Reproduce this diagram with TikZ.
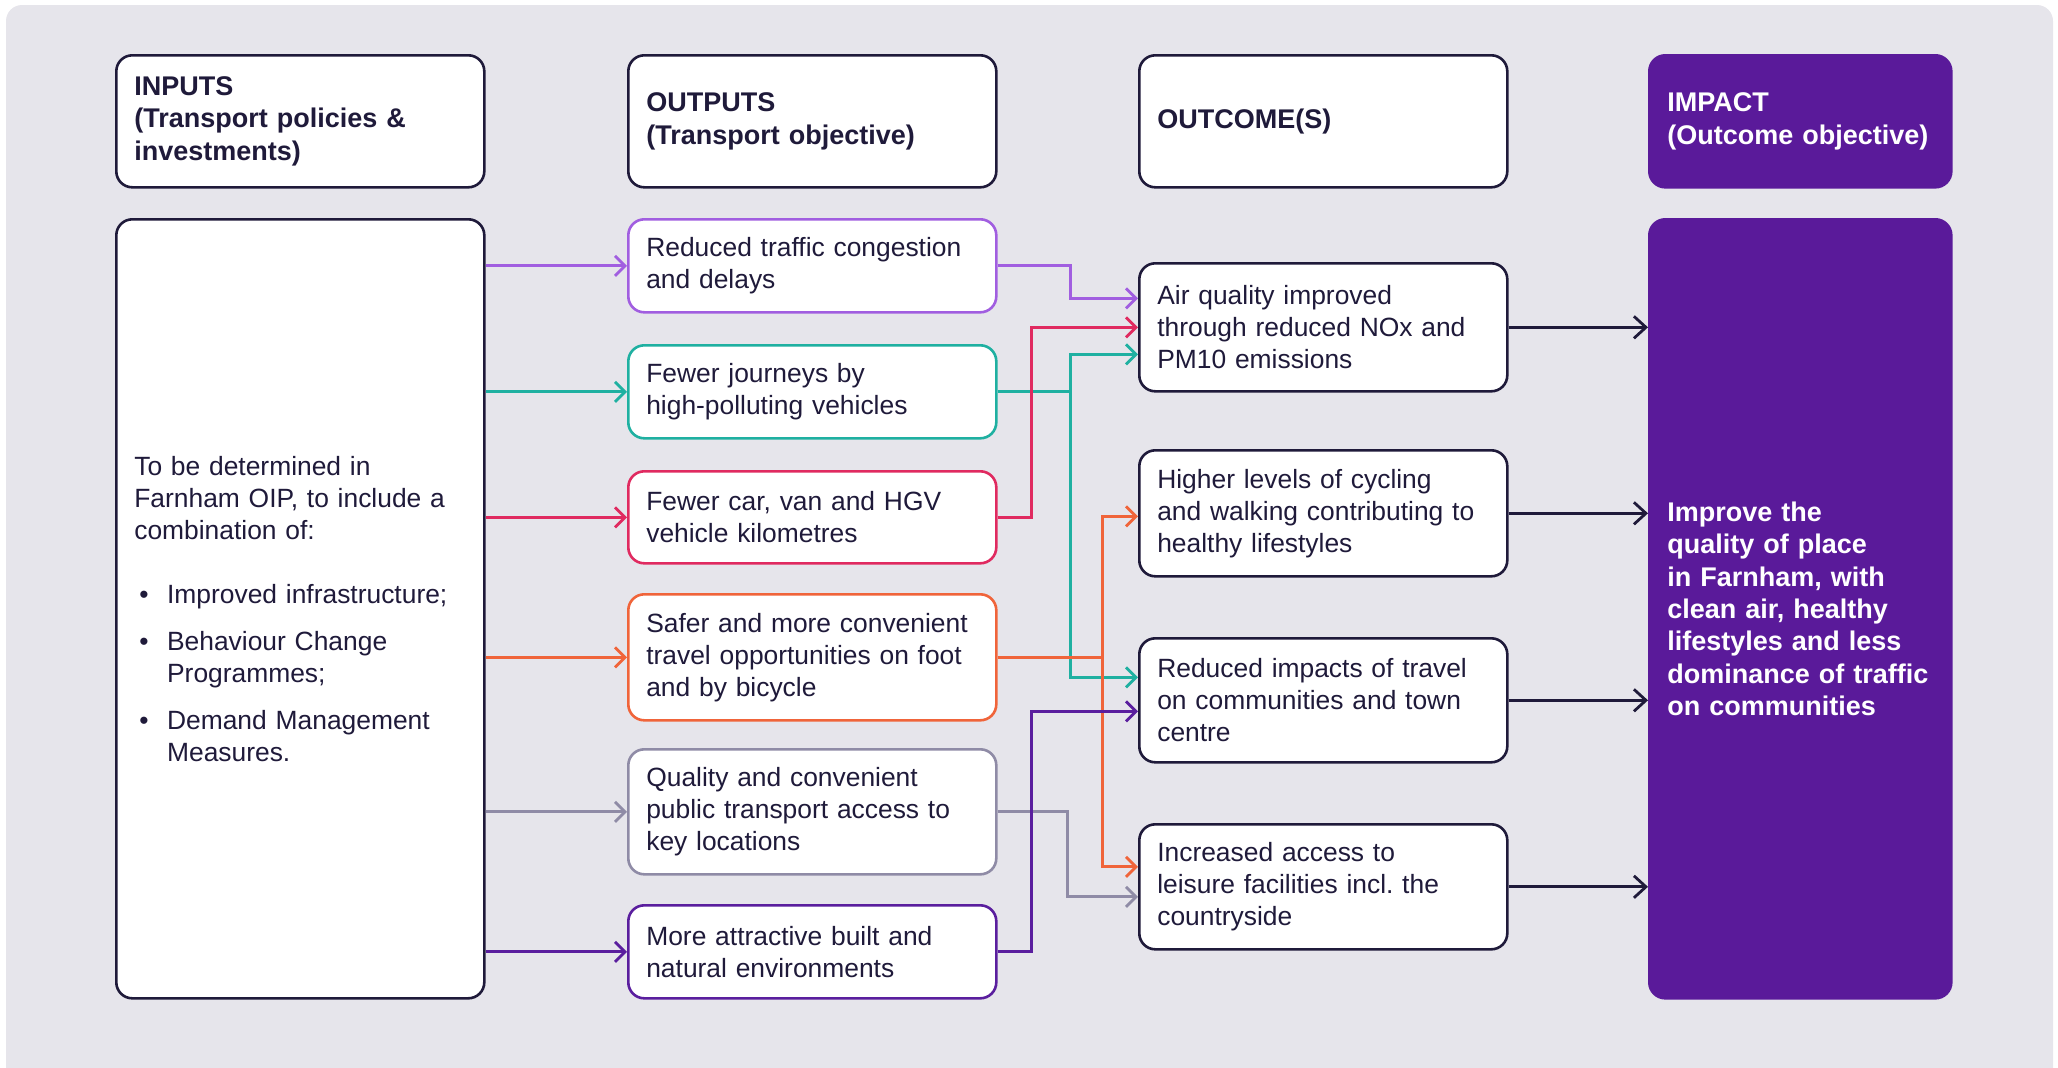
\documentclass[tikz,border=0pt]{standalone}
\usepackage{fontspec}
\setmainfont{Liberation Sans}
\usetikzlibrary{arrows.meta,positioning,calc}
\definecolor{ink}{HTML}{1F1A3A}
\definecolor{bg}{HTML}{E6E5EB}
\definecolor{imp}{HTML}{5A1A9A}
\definecolor{lilac}{HTML}{A15EE0}
\definecolor{jade}{HTML}{1FB0A1}
\definecolor{rose}{HTML}{E02A60}
\definecolor{flame}{HTML}{F0643A}
\definecolor{slate}{HTML}{8F8BA6}
\definecolor{plum}{HTML}{5A1E9E}

\begin{document}
\begin{tikzpicture}
[x=0.5pt,y=-0.5pt,
font=\fontsize{13.2}{16}\selectfont,
cell/.style={draw=ink,line width=1.3pt,rounded corners=8pt,fill=white,text=ink,
  anchor=north west,align=left,text width=166pt,inner xsep=9pt,inner ysep=0pt},
hdr/.style={cell,minimum height=66pt,font=\fontsize{13.5}{16.2}\selectfont\bfseries},
outbox/.style={cell,line width=1.3pt},
arr/.style={line width=1.4pt,-{Straight Barb[length=5pt,width=10pt]}},
bigarr/.style={line width=1.4pt,ink,-{Straight Barb[length=6pt,width=11pt]}}]
%%%%%%%%%%
\newcommand{\dotitem}{\makebox[16.4pt][l]{\hspace{2.5pt}\textbullet}}

\useasboundingbox (0,0) rectangle (2058,1067);
\fill[bg,rounded corners=8pt] (6,5) rectangle (2053,1090);

%% headers
\node[hdr] (hin) at (115,54) {INPUTS\\(Transport policies \&\\investments)};
\node[hdr] (hout) at (627,54) {OUTPUTS\\(Transport objective)};
\node[hdr] (hres) at (1138,54) {OUTCOME(S)};
\node[hdr,fill=imp,draw=imp,text=white,text width=133pt] (himp) at (1648,54)
  {IMPACT\\(Outcome objective)};

%% inputs
\node[cell,minimum height=389.5pt] (inp) at (115,218)
  {To be determined in\\Farnham OIP, to include a\\combination of:\\[16pt]
   \dotitem Improved infrastructure;\\[7.6pt]
   \dotitem Behaviour Change\\\hspace*{16.4pt}Programmes;\\[7.6pt]
   \dotitem Demand Management\\\hspace*{16.4pt}Measures.};

%% outputs
\node[outbox,draw=lilac,minimum height=46.5pt] (o1) at (627,218)
  {Reduced traffic congestion\\and delays};
\node[outbox,draw=jade,minimum height=46.5pt] (o2) at (627,344)
  {Fewer journeys by\\high-polluting vehicles};
\node[outbox,draw=rose,minimum height=46pt] (o3) at (627,470)
  {Fewer car, van and HGV\\vehicle kilometres};
\node[outbox,draw=flame,minimum height=63pt] (o4) at (627,593)
  {Safer and more convenient\\travel opportunities on foot\\and by bicycle};
\node[outbox,draw=slate,minimum height=62.5pt] (o5) at (627,748)
  {Quality and convenient\\public transport access to\\key locations};
\node[outbox,draw=plum,minimum height=46.5pt] (o6) at (627,904)
  {More attractive built and\\natural environments};

%% outcomes
\node[cell,minimum height=64pt] (c1) at (1138,262)
  {Air quality improved\\through reduced NOx and\\PM10 emissions};
\node[cell,minimum height=63pt] (c2) at (1138,449)
  {Higher levels of cycling\\and walking contributing to\\healthy lifestyles};
\node[cell,minimum height=62pt] (c3) at (1138,637)
  {Reduced impacts of travel\\on communities and town\\centre};
\node[cell,minimum height=62.5pt] (c4) at (1138,823)
  {Increased access to\\leisure facilities incl.\ the\\countryside};

%% impact
\node[cell,fill=imp,draw=imp,text=white,text width=133pt,minimum height=389.5pt,
  font=\fontsize{13.5}{16.2}\selectfont\bfseries] (imp) at (1648,218)
  {Improve the\\quality of place\\in Farnham, with\\clean air, healthy\\lifestyles and less\\dominance of traffic\\on communities};

%% inputs to outputs
\foreach \o/\col in {o1/lilac,o2/jade,o3/rose,o4/flame,o5/slate,o6/plum}
  \draw[arr,\col] (inp.east |- \o.west) -- (\o.west);

%% outputs to outcomes
\draw[arr,lilac] (o1.east) -- ++(73,0) |- ($(c1.west)+(0,-29)$);
\draw[arr,jade] (o2.east) -- ++(73,0) |- ($(c1.west)+(0,27)$);
\draw[arr,jade] (o2.east) -- ++(73,0) |- ($(c3.west)+(0,-23)$);
\draw[arr,rose] (o3.east) -- ++(34,0) |- (c1.west);
\draw[arr,flame] (o4.east) -- ++(105,0) |- ($(c2.west)+(0,3)$);
\draw[arr,flame] (o4.east) -- ++(105,0) |- ($(c4.west)+(0,-20)$);
\draw[arr,slate] (o5.east) -- ++(70,0) |- ($(c4.west)+(0,10)$);
\draw[arr,plum] (o6.east) -- ++(34,0) |- ($(c3.west)+(0,11)$);

%% outcomes to impact
\foreach \c in {c1,c2,c3,c4}
  \draw[bigarr] (\c.east) -- (\c.east -| imp.west);
\end{tikzpicture}
\end{document}
